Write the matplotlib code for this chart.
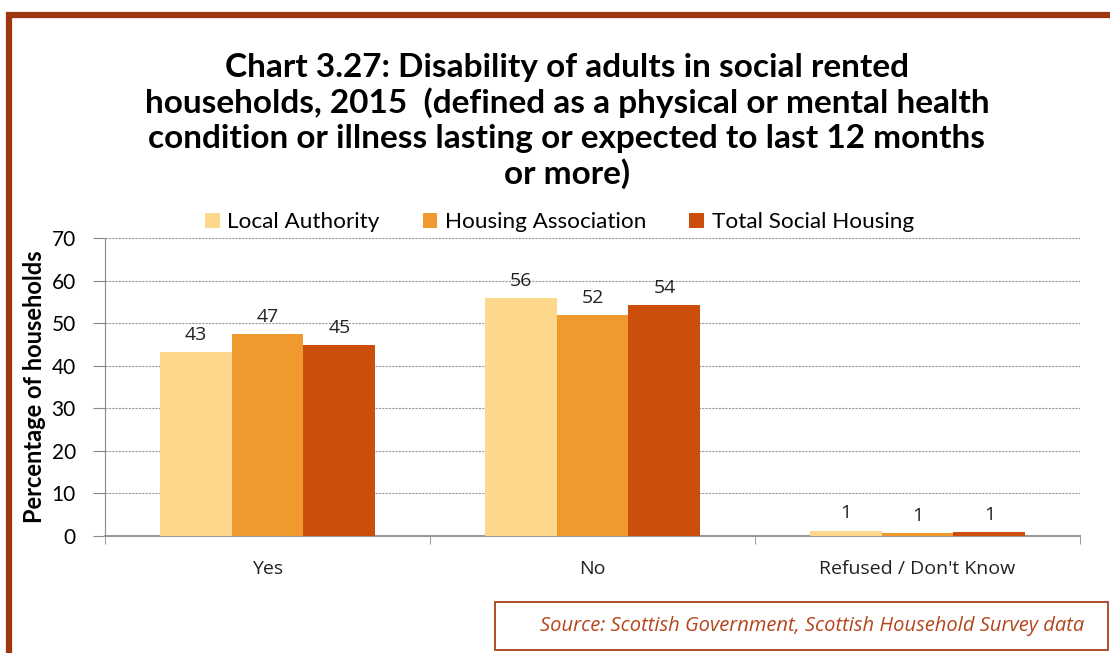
import numpy as np
import matplotlib.pyplot as plt
from matplotlib.patches import Rectangle

categories = ['Yes', 'No', "Refused / Don't Know"]
series_names = ['Local Authority', 'Housing Association', 'Total Social Housing']
local_authority = [43.2, 55.9, 1.2]
housing_assoc = [47.4, 51.9, 0.7]
total_social = [44.8, 54.2, 0.9]
labels_la = ['43', '56', '1']
labels_ha = ['47', '52', '1']
labels_ts = ['45', '54', '1']
colors = ['#FDD78C', '#F0992E', '#CC4E0A']

plt.rcParams['font.family'] = ['Lato', 'DejaVu Sans']

W, H = 1110, 653
fig = plt.figure(figsize=(W / 100, H / 100), dpi=100)
fig.patch.set_facecolor('white')

# outer frame (only left and top visible)
fig.patches.append(Rectangle((9 / W, -0.2), 1.3, 1 - 15 / H + 0.2, transform=fig.transFigure,
                             fill=False, edgecolor='#9E3711', linewidth=4.5))

ax = fig.add_axes([105 / W, 1 - 536 / H, 975 / W, 298 / H])
x = np.arange(len(categories))
bw = 0.2215
for i, (vals, labs) in enumerate(zip([local_authority, housing_assoc, total_social],
                                     [labels_la, labels_ha, labels_ts])):
    pos = x + (i - 1) * bw
    ax.bar(pos, vals, width=bw, color=colors[i], label=series_names[i], zorder=3)
    for p, v, t in zip(pos, vals, labs):
        ax.text(p, v + 2.0, t, ha='center', va='bottom', fontsize=14, color='#222222',
                family=['Open Sans', 'DejaVu Sans'])

ax.set_xlim(-0.5, 2.5)
ax.set_ylim(0, 70)
ax.set_yticks(range(0, 71, 10))
ax.tick_params(axis='y', labelsize=15, length=9, color='#888888', pad=12)
ax.set_xticks(x)
ax.set_xticklabels(categories, fontsize=14, family=['Open Sans', 'DejaVu Sans'], color='#222222')
ax.tick_params(axis='x', length=0, pad=17)
ax.set_xticks([-0.5, 0.5, 1.5, 2.5], minor=True)
ax.tick_params(axis='x', which='minor', length=6, color='#888888')
ax.yaxis.grid(True, linestyle=(0, (2, 1)), color='#999999', linewidth=0.8, zorder=0)
for s in ['top', 'right']:
    ax.spines[s].set_visible(False)
ax.spines['left'].set_color('#888888')
ax.spines['bottom'].set_color('#999999')
ax.spines['bottom'].set_linewidth(1.5)
ax.set_ylabel('Percentage of households', fontsize=17, fontweight='bold', labelpad=4)

fig.text(567 / W, 1 - 121 / H,
         'Chart 3.27: Disability of adults in social rented\n'
         'households, 2015  (defined as a physical or mental health\n'
         'condition or illness lasting or expected to last 12 months\n'
         'or more)',
         ha='center', va='center', fontsize=24, fontweight='bold', linespacing=1.22)

ax.legend(loc='lower center', bbox_to_anchor=(0.466, 0.99), ncol=3, frameon=False,
          fontsize=16.2, handlelength=0.65, handleheight=0.65, handletextpad=0.35,
          columnspacing=1.9, borderaxespad=0)

# source box
fig.patches.append(Rectangle((495 / W, 1 - 650 / H), 613 / W, 48 / H, transform=fig.transFigure,
                             fill=False, edgecolor='#A8401A', linewidth=1.3))
fig.text(812 / W, 1 - 626 / H, 'Source: Scottish Government, Scottish Household Survey data',
         ha='center', va='center', fontsize=14.5, style='italic', color='#B5451B',
         family=['Open Sans', 'DejaVu Sans'])

fig.savefig('out.png', dpi=100)
